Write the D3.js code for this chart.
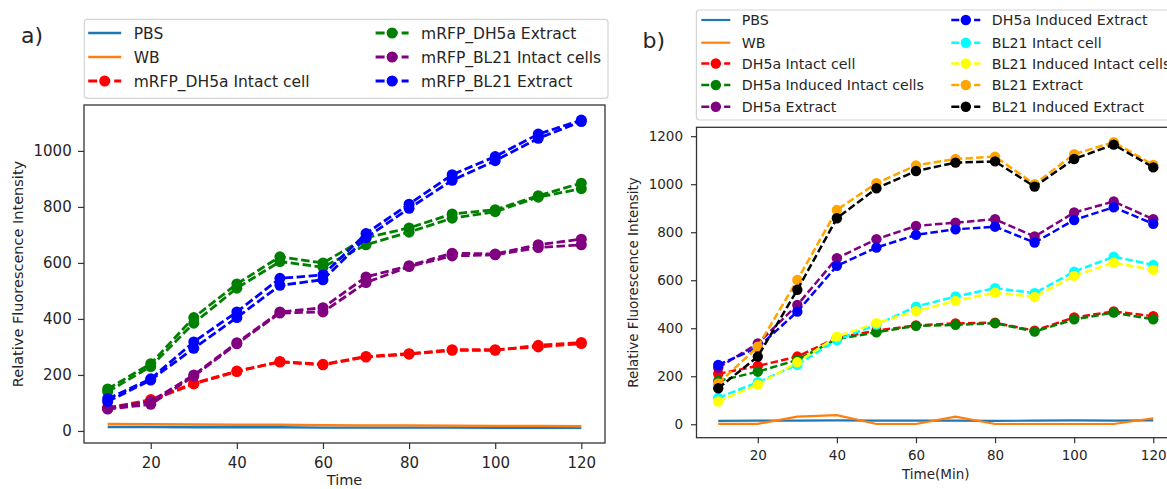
<!DOCTYPE html>
<html>
<head>
<meta charset="utf-8">
<script src="https://cdn.jsdelivr.net/npm/d3@7"></script>
<style>
  body { margin: 0; background: #fff; }
  svg { display: block; }
  text { font-family: "DejaVu Sans", sans-serif; fill: #262626; }
</style>
</head>
<body>
<svg id="chart" width="1167" height="489"></svg>
<script>
// Sampling times (minutes)
const timeMin = [10, 20, 30, 40, 50, 60, 70, 80, 90, 100, 110, 120];
const xTickValues = [20, 40, 60, 80, 100, 120];

// Panel a) — mRFP expression, two replicate traces per sample
const aPBS = [14, 14, 13, 13, 13, 12, 12, 12, 12, 11, 11, 11];
const aWB = [25, 24, 23, 22, 22, 21, 20, 20, 19, 18, 18, 17];
const aDH5aIntactA = [80, 108, 168, 212, 248, 238, 266, 276, 290, 290, 300, 312];
const aDH5aIntactB = [82, 112, 170, 214, 246, 236, 264, 274, 288, 288, 306, 316];
const aDH5aExtractA = [140, 230, 385, 510, 605, 585, 665, 710, 760, 783, 835, 865];
const aDH5aExtractB = [150, 240, 405, 525, 622, 600, 690, 725, 775, 790, 840, 885];
const aBL21IntactA = [78, 95, 196, 311, 421, 425, 530, 587, 625, 629, 655, 665];
const aBL21IntactB = [82, 105, 200, 315, 425, 440, 550, 590, 635, 632, 665, 685];
const aBL21ExtractA = [105, 182, 295, 405, 520, 540, 690, 795, 895, 965, 1045, 1105];
const aBL21ExtractB = [115, 186, 318, 425, 545, 557, 705, 810, 915, 980, 1060, 1110];
const aYTicks = [0, 200, 400, 600, 800, 1000];

// Panel b) — induced vs. non-induced strains
const bPBS = [14, 15, 15, 16, 15, 15, 15, 14, 15, 16, 15, 16];
const bWB = [2, 2, 32, 38, 1, 1, 32, 1, 1, 1, 1, 25];
const bDH5aIntact = [210, 243, 282, 360, 390, 412, 420, 423, 390, 445, 470, 450];
const bDH5aInducedIntact = [180, 219, 268, 355, 383, 410, 414, 421, 386, 437, 465, 437];
const bDH5aExtract = [235, 337, 497, 692, 771, 826, 840, 854, 782, 882, 928, 854];
const bDH5aInducedExtract = [247, 320, 469, 660, 736, 789, 812, 823, 757, 851, 904, 835];
const bBL21Intact = [110, 175, 248, 351, 415, 490, 532, 567, 546, 636, 698, 664];
const bBL21InducedIntact = [95, 165, 258, 365, 421, 471, 514, 548, 530, 618, 673, 643];
const bBL21Extract = [170, 323, 601, 893, 1004, 1078, 1105, 1115, 1000, 1125, 1175, 1080];
const bBL21InducedExtract = [150, 282, 560, 858, 983, 1055, 1090, 1095, 990, 1105, 1165, 1070];
const bYTicks = [0, 200, 400, 600, 800, 1000, 1200];

const svg = d3.select("#chart");

function drawPanel(p) {
  const g = svg.append("g");
  const x = d3.scaleLinear().domain([4.5, 125.5]).range([p.left, p.right]);
  const y = d3.scaleLinear().domain(p.yDomain).range([p.bottom, p.top]);

  // axes
  const xAxis = d3.axisBottom(x).tickValues(xTickValues).tickFormat(d3.format("d"))
    .tickSize(p.tick).tickPadding(p.xPad).tickSizeOuter(0);
  const yAxis = d3.axisLeft(y).tickValues(p.yTicks).tickFormat(d3.format("d"))
    .tickSize(p.tick).tickPadding(p.yPad).tickSizeOuter(0);
  const gx = g.append("g").attr("transform", `translate(0,${p.bottom})`).call(xAxis);
  const gy = g.append("g").attr("transform", `translate(${p.left},0)`).call(yAxis);
  [gx, gy].forEach(a => {
    a.select(".domain").remove();
    a.selectAll(".tick line").attr("stroke", "#333").attr("stroke-width", 1.2);
    a.selectAll(".tick text").style("font-size", p.tickFont + "px").attr("fill", "#262626");
  });

  // series
  const line = d3.line().x((d, i) => x(timeMin[i])).y(d => y(d));
  p.series.forEach(s => {
    g.append("path").datum(s.values)
      .attr("d", line).attr("fill", "none")
      .attr("stroke", s.color).attr("stroke-width", s.marker ? p.lw : p.solidLw)
      .attr("stroke-dasharray", s.marker ? p.dash : null);
    if (s.marker) {
      g.append("g").selectAll("circle").data(s.values).join("circle")
        .attr("cx", (d, i) => x(timeMin[i])).attr("cy", d => y(d))
        .attr("r", p.r).attr("fill", s.color);
    }
  });

  // frame
  g.append("rect").attr("x", p.left).attr("y", p.top)
    .attr("width", p.right - p.left).attr("height", p.bottom - p.top)
    .attr("fill", "none").attr("stroke", "#333").attr("stroke-width", 1.3);

  // axis labels
  g.append("text").attr("x", (p.left + p.right) / 2).attr("y", p.xLabelY)
    .attr("text-anchor", "middle").style("font-size", p.labelFont + "px").text(p.xLabel);
  g.append("text").attr("transform", `translate(${p.yLabelX},${(p.top + p.bottom) / 2}) rotate(-90)`)
    .attr("text-anchor", "middle").attr("dy", "0.35em").style("font-size", p.labelFont + "px")
    .text("Relative Fluorescence Intensity");

  // legend
  const L = p.legend;
  g.append("rect").attr("x", L.x).attr("y", L.y).attr("width", L.w).attr("height", L.h)
    .attr("rx", 3).attr("fill", "#fff").attr("stroke", "#d4d4d4").attr("stroke-width", 1.2);
  const entries = p.series.filter(s => s.label);
  entries.forEach((s, k) => {
    const col = Math.floor(k / L.perCol), row = k % L.perCol;
    const hx = L.cols[col], ry = L.rowY[row];
    g.append("line").attr("x1", hx).attr("x2", hx + L.handle).attr("y1", ry).attr("y2", ry)
      .attr("stroke", s.color).attr("stroke-width", s.marker ? p.lw : p.solidLw)
      .attr("stroke-dasharray", s.marker ? L.dash : null);
    if (s.marker) {
      g.append("circle").attr("cx", hx + L.handle / 2).attr("cy", ry).attr("r", p.r).attr("fill", s.color);
    }
    g.append("text").attr("x", hx + L.handle + L.gap).attr("y", ry).attr("dy", "0.36em")
      .style("font-size", L.font + "px").text(s.label);
  });

  // panel tag
  svg.append("text").attr("x", p.tag.x).attr("y", p.tag.y).style("font-size", p.tag.size + "px")
    .attr("fill", "#111").text(p.tag.text);
}

drawPanel({
  left: 84, right: 605, top: 105, bottom: 443,
  yDomain: [-43, 1164], yTicks: aYTicks,
  tick: 6, xPad: 8.6, yPad: 6.3, tickFont: 15, labelFont: 14.5,
  lw: 2.8, solidLw: 2.4, dash: "8.5,3.5", r: 5.5,
  xLabel: "Time", xLabelY: 485, yLabelX: 18,
  series: [
    { values: aPBS, color: "#1f77b4", label: "PBS" },
    { values: aWB, color: "#ff7f0e", label: "WB" },
    { values: aDH5aIntactA, color: "red", marker: true, label: "mRFP_DH5a Intact cell" },
    { values: aDH5aIntactB, color: "red", marker: true },
    { values: aDH5aExtractA, color: "green", marker: true, label: "mRFP_DH5a Extract" },
    { values: aDH5aExtractB, color: "green", marker: true },
    { values: aBL21IntactA, color: "purple", marker: true, label: "mRFP_BL21 Intact cells" },
    { values: aBL21IntactB, color: "purple", marker: true },
    { values: aBL21ExtractA, color: "blue", marker: true, label: "mRFP_BL21 Extract" },
    { values: aBL21ExtractB, color: "blue", marker: true }
  ],
  legend: { x: 84.3, y: 19.3, w: 523.7, h: 79, perCol: 3, cols: [88.2, 375.6], rowY: [33, 57, 81],
            handle: 33, gap: 12.5, font: 15.5, dash: "9,4" },
  tag: { x: 21, y: 43, size: 22, text: "a)" }
});

drawPanel({
  left: 696.5, right: 1175, top: 127.3, bottom: 437.7,
  yDomain: [-56, 1237], yTicks: bYTicks,
  tick: 5.5, xPad: 7, yPad: 8, tickFont: 13.5, labelFont: 13.5,
  lw: 2.5, solidLw: 2.2, dash: "7.5,3.2", r: 5.2,
  xLabel: "Time(Min)", xLabelY: 479, yLabelX: 633,
  series: [
    { values: bPBS, color: "#1f77b4", label: "PBS" },
    { values: bWB, color: "#ff7f0e", label: "WB" },
    { values: bDH5aIntact, color: "red", marker: true, label: "DH5a Intact cell" },
    { values: bDH5aInducedIntact, color: "green", marker: true, label: "DH5a Induced Intact cells" },
    { values: bDH5aExtract, color: "purple", marker: true, label: "DH5a Extract" },
    { values: bDH5aInducedExtract, color: "blue", marker: true, label: "DH5a Induced Extract" },
    { values: bBL21Intact, color: "cyan", marker: true, label: "BL21 Intact cell" },
    { values: bBL21InducedIntact, color: "yellow", marker: true, label: "BL21 Induced Intact cells" },
    { values: bBL21Extract, color: "orange", marker: true, label: "BL21 Extract" },
    { values: bBL21InducedExtract, color: "black", marker: true, label: "BL21 Induced Extract" }
  ],
  legend: { x: 696.4, y: 10, w: 490, h: 110, perCol: 5, cols: [701.3, 951.3], rowY: [20, 42.7, 63.5, 85, 106.7],
            handle: 29, gap: 11.5, font: 14.2, dash: "8,3.4" },
  tag: { x: 642.5, y: 48, size: 22, text: "b)" }
});
</script>
</body>
</html>
